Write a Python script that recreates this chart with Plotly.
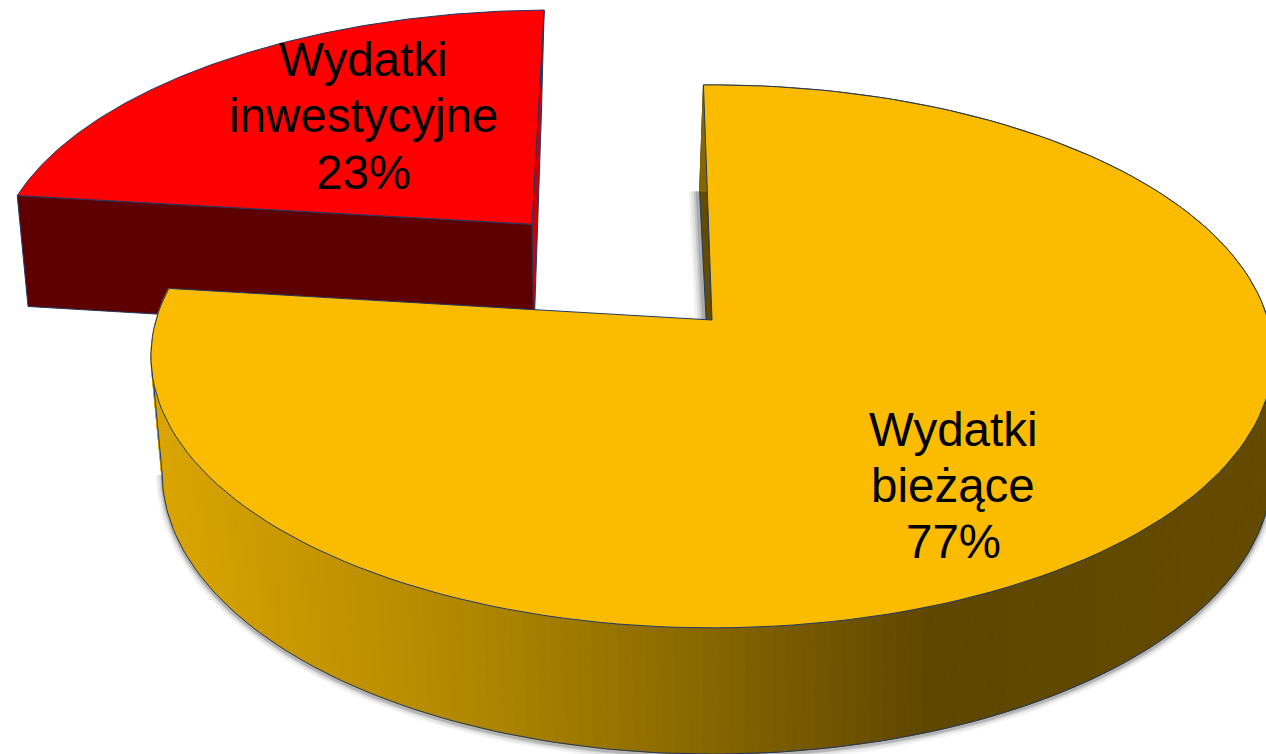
import math
import plotly.graph_objects as go

# --- data ---
categories = ["Wydatki bieżące", "Wydatki inwestycyjne"]
label_lines = [["Wydatki", "bieżące"], ["Wydatki", "inwestycyjne"]]
shares = [77.2, 22.8]

# --- pie geometry and styles ---
START_ANGLE = -1.0
EXPLODE = 0.508
CX, CY = 712, 320
A, B, H, K, M = 556, 266.6, 118, 0.134, 0.02
YELLOW, RED = "#FBBC00", "#FF0000"
RED_DARK, RED_SIDE = "#5F0000", "#D00000"
YEL_DARK = "#654B00"
EDGE = "#1F3864"
LABEL_POS = [(953, [429, 485, 541]), (363, [59, 115, 172])]


def proj(X, Y, Z=0):
    d = 1 - K * Y + M * Z
    skew = Z * (10 * max(X, 0) - 4 * max(-Y, 0))
    return CX + A * X / d + skew, CY + (B * Y + H * Z) / d


def plan(t, r=1.0, o=(0, 0)):
    a = math.radians(t)
    return o[0] + r * math.sin(a), o[1] - r * math.cos(a)


def arc(t0, t1, o=(0, 0), Z=0, n=160):
    return [proj(*plan(t0 + (t1 - t0) * i / n, 1, o), Z) for i in range(n + 1)]


fig = go.Figure()


def poly(pts, fill=None, line=None, width=1, opacity=1, close=True):
    xs = [p[0] for p in pts]
    ys = [p[1] for p in pts]
    if close:
        xs.append(xs[0])
        ys.append(ys[0])
    fig.add_trace(go.Scatter(
        x=xs, y=ys, mode="lines", fill="toself" if fill else None,
        fillcolor=fill, opacity=opacity,
        line=dict(color=line if line else "rgba(0,0,0,0)", width=width if line else 0),
        hoverinfo="skip", showlegend=False))


def rim_color(x):
    stops = [(165, (218, 165, 0)), (500, (172, 132, 0)), (930, (95, 71, 0)), (1266, (101, 75, 0))]
    if x <= stops[0][0]:
        return "rgb(218,165,0)"
    for (x0, c0), (x1, c1) in zip(stops, stops[1:]):
        if x <= x1:
            f = (x - x0) / (x1 - x0)
            return "rgb(%d,%d,%d)" % tuple(c0[i] + f * (c1[i] - c0[i]) for i in range(3))
    return "rgb(101,75,0)"


total = sum(shares)
span0 = 360 * shares[0] / total
t0 = START_ANGLE
t1 = START_ANGLE + span0
t2 = START_ANGLE + 360
bis = math.radians((t1 + t2) / 2)
off = (EXPLODE * math.sin(bis), -EXPLODE * math.cos(bis))
o0 = (0, 0)

# silhouette angles of the lower ring
sil_left = min((t1 - 40 + i * 0.25 for i in range(160)), key=lambda t: proj(*plan(t), 1)[0])
sil_right = max((40 + i * 0.25 for i in range(320)), key=lambda t: proj(*plan(t), 1)[0])

# --- red slice (drawn first: it sits behind the yellow one) ---
red_apex_t = proj(*off, 0)
red_apex_b = proj(*off, 1)
poly([proj(*plan(t2, 1, off), 0), proj(*plan(t2, 1, off), 1), red_apex_b, red_apex_t],
     fill=RED_SIDE, line=EDGE)
poly([proj(*plan(t1, 1, off), 0), proj(*plan(t1, 1, off), 1), red_apex_b, red_apex_t],
     fill=RED_DARK, line=EDGE)
poly([red_apex_t] + arc(t1, t2, off), fill=RED, line=EDGE)

# --- soft shadows of the yellow slice ---
outer_shadow = arc(sil_right, sil_left, o0, 1)
for w, op in ((13, 0.04), (9, 0.06), (5, 0.09), (3, 0.12)):
    poly([(x, y + 2) for x, y in outer_shadow], line="#000000", width=w, opacity=op, close=False)
inner_shadow = [proj(*plan(t0), 1), proj(0, 0, 1)]
for w, op in ((18, 0.05), (13, 0.07), (8, 0.10), (4, 0.14)):
    poly([(x - 2, y) for x, y in inner_shadow], line="#000000", width=w, opacity=op, close=False)

# --- yellow slice sides ---
yellow_apex_t = proj(0, 0, 0)
yellow_apex_b = proj(0, 0, 1)
poly([proj(*plan(t0), 0), proj(*plan(t0), 1), yellow_apex_b, yellow_apex_t], fill=YEL_DARK, line=EDGE)
STRIPS = 220
for i in range(STRIPS):
    a0 = t0 + (t1 - t0) * i / STRIPS
    a1 = t0 + (t1 - t0) * (i + 1) / STRIPS
    p = [proj(*plan(a0), 0), proj(*plan(a1), 0), proj(*plan(a1), 1), proj(*plan(a0), 1)]
    col = rim_color(sum(q[0] for q in p) / 4)
    poly(p, fill=col, line=col, width=1)
poly(arc(sil_right, sil_left, o0, 1), line=EDGE, close=False)
poly([proj(*plan(sil_left), 0), proj(*plan(sil_left), 1)], line=EDGE, close=False)

# --- yellow top ---
poly([yellow_apex_t] + arc(t0, t1), fill=YELLOW, line=EDGE)

# --- labels ---
annotations = []
for name_lines, share, (lx, lys) in zip(label_lines, shares, LABEL_POS):
    for text, ly in zip(name_lines + [f"{share:.0f}%"], lys):
        annotations.append(dict(x=lx, y=ly, xref="x", yref="y", text=text, showarrow=False,
                                xanchor="center", yanchor="middle",
                                font=dict(family="Liberation Sans", size=47.5, color="#000000")))

fig.update_layout(
    width=1266, height=754, margin=dict(l=0, r=0, t=0, b=0),
    paper_bgcolor="#FFFFFF", plot_bgcolor="#FFFFFF", showlegend=False,
    annotations=annotations,
    xaxis=dict(range=[0, 1266], visible=False, fixedrange=True),
    yaxis=dict(range=[754, 0], visible=False, fixedrange=True),
)
fig.write_html("out.html", config={"displayModeBar": False},
               post_script="document.body.style.margin='0';document.body.style.overflow='hidden';")
